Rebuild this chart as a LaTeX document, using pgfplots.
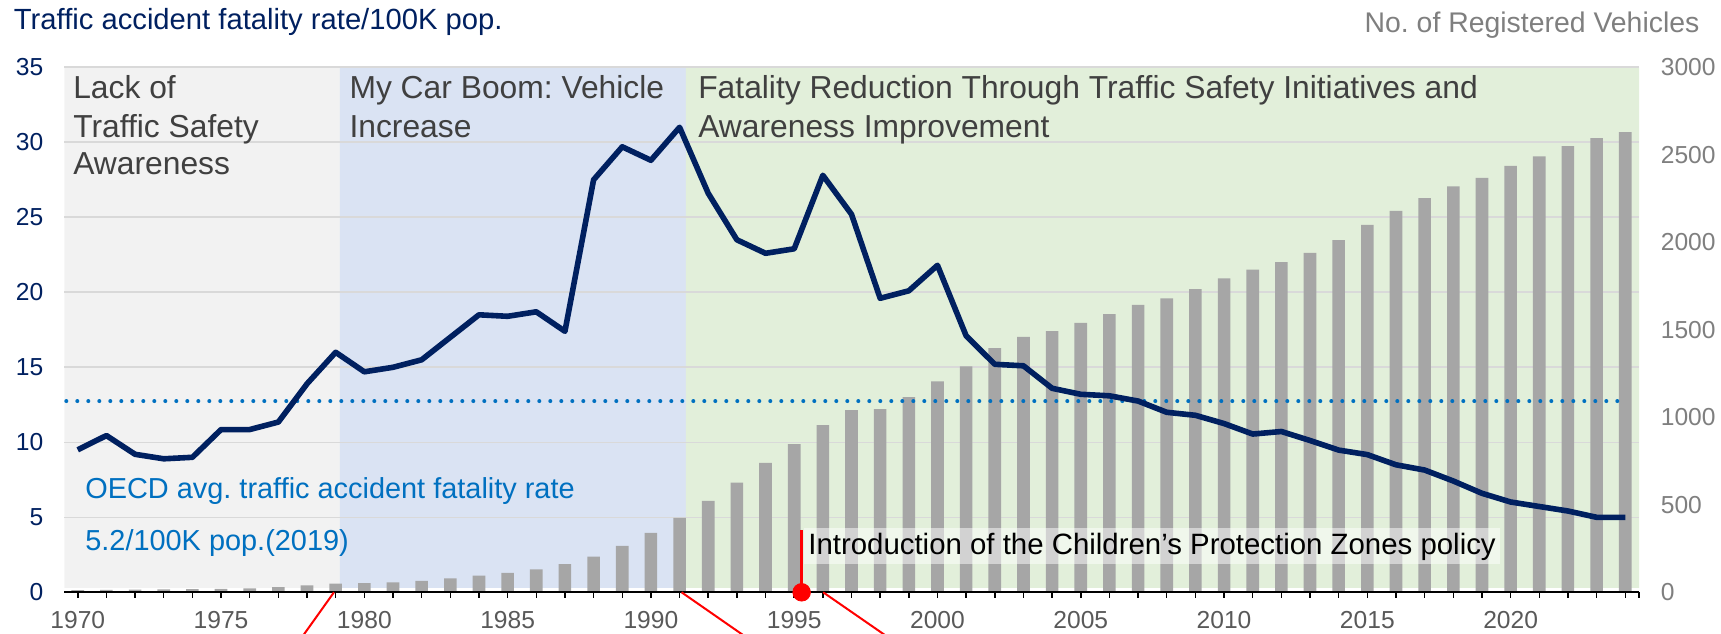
\documentclass[border=0pt]{standalone}
\usepackage{pgfplots}
\pgfplotsset{compat=1.18}
\usepackage{pgfplotstable}
\usepackage{fontspec}
\setmainfont{Liberation Sans}
\frenchspacing
\definecolor{navy}{HTML}{002060}
\definecolor{bandgray}{HTML}{F2F2F2}
\definecolor{bandblue}{HTML}{DAE3F3}
\definecolor{bandgreen}{HTML}{E2EFDA}
\definecolor{bargray}{HTML}{A6A6A6}
\definecolor{gridgray}{HTML}{D9D9D9}
\definecolor{oecdblue}{HTML}{0070C0}
\definecolor{txtdark}{HTML}{404040}
\definecolor{xlab}{HTML}{595959}
\definecolor{rlab}{HTML}{7F7F7F}

\pgfplotstableread{
year rate veh
1970 9.5 13
1971 10.45 14
1972 9.2 15
1973 8.9 17
1974 9.0 18
1975 10.85 19
1976 10.85 23
1977 11.35 30
1978 13.9 39
1979 16.0 49
1980 14.7 53
1981 15.0 57
1982 15.5 65
1983 17.0 79
1984 18.5 95
1985 18.4 111
1986 18.7 131
1987 17.4 161
1988 27.5 204
1989 29.7 266
1990 28.8 339
1991 31.0 425
1992 26.6 523
1993 23.5 627
1994 22.6 740
1995 22.9 847
1996 27.8 955
1997 25.2 1041
1998 19.6 1047
1999 20.1 1116
2000 21.8 1206
2001 17.1 1291
2002 15.2 1395
2003 15.1 1459
2004 13.6 1493
2005 13.2 1540
2006 13.1 1590
2007 12.75 1643
2008 12.0 1679
2009 11.8 1733
2010 11.25 1794
2011 10.55 1844
2012 10.72 1887
2013 10.12 1940
2014 9.48 2012
2015 9.18 2099
2016 8.5 2180
2017 8.15 2253
2018 7.42 2320
2019 6.6 2368
2020 6.02 2437
2021 5.72 2491
2022 5.42 2550
2023 5.0 2595
2024 5.0 2629
}\data

\pgfplotsset{
  base/.style={
    width=787.35pt, height=262.5pt, scale only axis,
    xmin=1969.53, xmax=2024.48,
    at={(0,0)}, anchor=south west,
    /pgf/number format/1000 sep={},
    /pgf/number format/assume math mode=true,
  },
}
\newcommand{\tickfont}{\fontsize{12.3}{14}\selectfont}

\begin{document}
\begin{tikzpicture}
% bands
\begin{axis}[base, hide axis, ymin=0, ymax=35]
\addplot[fill=bandgray, draw=none] coordinates {(1969.53,0.3) (1979.15,0.3) (1979.15,35) (1969.53,35) (1969.53,0.3)};
\addplot[fill=bandblue, draw=none] coordinates {(1979.15,0.3) (1991.22,0.3) (1991.22,35) (1979.15,35) (1979.15,0.3)};
\addplot[fill=bandgreen, draw=none] coordinates {(1991.22,0.3) (2024.48,0.3) (2024.48,35) (1991.22,35) (1991.22,0.3)};
\end{axis}
% grid + left ticks
\begin{axis}[base, ymin=0, ymax=35, ytick={0,5,...,35}, xtick=\empty,
  axis line style={draw=none}, major tick length=0pt,
  ymajorgrids, major grid style={color=gridgray, line width=0.8pt},
  yticklabel style={font=\tickfont, text=navy, xshift=-7pt}]
\end{axis}
% bars, right axis
\begin{axis}[base, ymin=0, ymax=3000, ytick={0,500,...,3000}, xtick=\empty,
  yticklabel pos=right,
  axis line style={draw=none}, major tick length=0pt,
  yticklabel style={font=\tickfont, text=rlab, xshift=7.4pt}]
\addplot[ybar, bar width=0.44, fill=bargray, draw=none] table[x=year, y=veh] {\data};
\end{axis}
% lines + x axis
\begin{axis}[base, name=ax, ymin=0, ymax=35, clip=false,
  axis x line*=bottom, axis y line=none,
  x axis line style={black, line width=1pt},
  xtick={1970,1975,...,2020},
  minor xtick={1971,1972,...,2024,2024.48},
  tick align=outside, major tick length=2.6pt, minor tick length=2.6pt,
  every tick/.style={black, line width=0.75pt},
  xticklabel style={font=\tickfont, text=xlab, yshift=-3.5pt},
]
\addplot[oecdblue, line width=2pt, line cap=round, dash pattern=on 0pt off 5.5pt] coordinates {(1969.6,12.75) (2024,12.75)};
\addplot[navy, line width=2.8pt, line join=round] table[x=year, y=rate] {\data};
% annotation
\addplot[red, line width=1.3pt] coordinates {(1995.26,0) (1995.26,4.15)};
\addplot[red, only marks, mark=*, mark size=4.4pt, mark options={draw=red, fill=red}] coordinates {(1995.26,0)};
\node[anchor=west, fill=white, fill opacity=0.5, text opacity=1, inner xsep=2pt, inner ysep=0pt,
  minimum height=18pt, font=\fontsize{14.7}{16}\selectfont, text=black] at (axis cs:1995.34,3.06)
  {Introduction of the Children’s Protection Zones policy};
\draw[red, line width=1pt] (axis cs:1978.94,0) -- (axis cs:1977.82,-3);
\draw[red, line width=1pt] (axis cs:1991.07,0) -- (axis cs:1993.33,-3);
\draw[red, line width=1pt] (axis cs:1996.01,0) -- (axis cs:1998.28,-3);
% region labels
\begin{scope}[every node/.style={inner sep=0pt, anchor=base west, text=txtdark, font=\fontsize{15.9}{18}\selectfont}]
\node at (axis cs:1969.83,32.9) {Lack of};
\node at (axis cs:1969.83,30.34) {Traffic Safety};
\node at (axis cs:1969.83,27.85) {Awareness};
\node at (axis cs:1979.47,32.9) {My Car Boom: Vehicle};
\node at (axis cs:1979.47,30.34) {Increase};
\node at (axis cs:1991.64,32.9) {Fatality Reduction Through Traffic Safety Initiatives and};
\node at (axis cs:1991.64,30.34) {Awareness Improvement};
\end{scope}
\begin{scope}[every node/.style={inner sep=0pt, anchor=base west, text=oecdblue, font=\fontsize{14.45}{16}\selectfont}]
\node at (axis cs:1970.25,6.27) {OECD avg. traffic accident fatality rate};
\node at (axis cs:1970.25,2.77) {5.2/100K pop.(2019)};
\end{scope}
\node[inner sep=0pt, anchor=base west, text=navy, font=\fontsize{14.6}{16}\selectfont] at (axis cs:1967.76,37.49) {Traffic accident fatality rate/100K pop.};
\node[inner sep=0pt, anchor=base east, text=rlab, font=\fontsize{14.2}{16}\selectfont] at (axis cs:2026.6,37.35) {No. of Registered Vehicles};
\end{axis}
\pgfresetboundingbox
\path[use as bounding box] ([shift={(-32.15pt,-20.35pt)}]ax.south west) rectangle ([shift={(41pt,33.65pt)}]ax.north east);
\end{tikzpicture}
\end{document}
